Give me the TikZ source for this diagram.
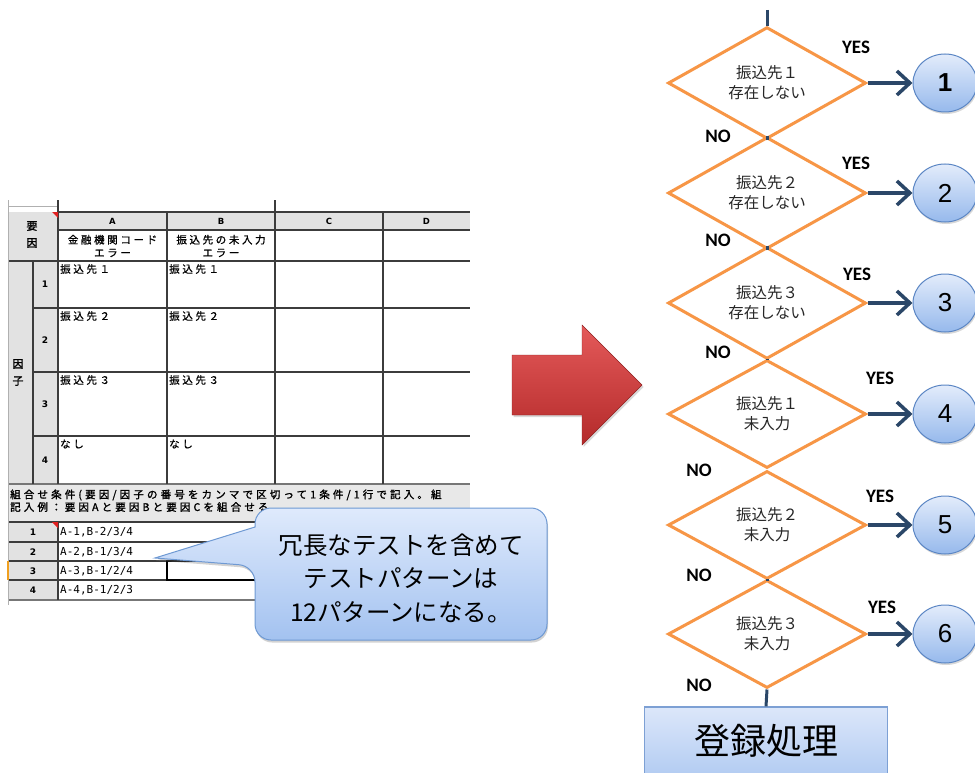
\documentclass[tikz,border=0pt]{standalone}
\usepackage{fontspec}
\usetikzlibrary{shapes.geometric,arrows.meta,shadows}
\newfontfamily\fJp{Noto Sans CJK JP}
\newfontfamily\fJpT[LetterSpace=25,FakeBold=0.6]{Noto Sans CJK JP}
\newfontfamily\fJpB[LetterSpace=30,FakeBold=1.6]{Noto Sans CJK JP}
\newfontfamily\fJpL[FakeBold=1.6]{Noto Sans CJK JP}
\newfontfamily\fCal{Carlito}
\newfontfamily\fAri{Liberation Sans}
\newfontfamily\fMono{DejaVu Sans Mono}
\newfontfamily\fDv{DejaVu Sans}
\definecolor{navy}{HTML}{2B4768}
\definecolor{orng}{HTML}{F79646}
\definecolor{eltop}{HTML}{E3ECFB}
\definecolor{elbot}{HTML}{96B9EC}
\definecolor{elline}{HTML}{5B86C4}
\definecolor{cotop}{HTML}{DFEAFC}
\definecolor{cobot}{HTML}{A3C2F0}
\definecolor{coline}{HTML}{6E99D3}
\definecolor{bxtop}{HTML}{DCE7FA}
\definecolor{bxbot}{HTML}{B3CCF2}
\definecolor{bxline}{HTML}{7DA0D4}
\definecolor{gridc}{HTML}{3C3C3C}
\definecolor{hdr}{HTML}{E2E2E2}
\definecolor{band}{HTML}{E8E8E8}
\definecolor{lgray}{HTML}{B0B0B0}
\definecolor{redtop}{HTML}{E45A5A}
\definecolor{redmid}{HTML}{D43C3C}
\definecolor{redbot}{HTML}{B42A2A}
\definecolor{markred}{HTML}{E02020}
\definecolor{selor}{HTML}{F0A020}
\tikzset{
  dia/.style={shape=diamond, draw=orng, line width=3pt, fill=white,
    minimum width=198pt, minimum height=108pt, inner sep=0pt, align=center,
    font=\fJp\fontsize{15.5}{20}\selectfont, text=black!85},
  res/.style={ellipse, draw=elline, line width=1pt, top color=eltop, bottom color=elbot,
    minimum width=64pt, minimum height=58pt, inner sep=0pt,
    font=\fAri\fontsize{26}{26}\selectfont,
    drop shadow={opacity=0.3, shadow xshift=1pt, shadow yshift=-2pt}},
  yes/.style={font=\fCal\bfseries\fontsize{19}{19}\selectfont, inner sep=0pt},
  link/.style={draw=navy, line width=3pt},
  yarrow/.style={draw=navy, line width=3.5pt, -{Straight Barb[length=13pt,width=24pt]}},
  regbox/.style={rectangle, draw=bxline, line width=1.2pt, top color=bxtop, bottom color=bxbot,
    minimum width=243pt, minimum height=68pt, inner sep=0pt,
    font=\fJp\fontsize{36}{36}\selectfont},
  gl/.style={draw=gridc, line width=1.1pt},
  tcell/.style={font=\fJpT\fontsize{10.5}{13}\selectfont, inner sep=0pt},
  thead/.style={font=\fDv\bfseries\fontsize{8.5}{8.5}\selectfont, inner sep=0pt},
  tnum/.style={font=\fDv\bfseries\fontsize{9}{9}\selectfont, inner sep=0pt},
  tband/.style={font=\fJpB\fontsize{10.5}{12}\selectfont, inner sep=0pt, anchor=west},
  tmono/.style={font=\fMono\fontsize{11}{11}\selectfont, inner sep=0pt, anchor=west},
  tlabel/.style={font=\fJpL\fontsize{11}{17}\selectfont, inner sep=0pt, align=center}
}
\begin{document}
\begin{tikzpicture}[x=1pt,y=-1pt]
\useasboundingbox (0,0) rectangle (975,773);
\fill[white] (0,0) rectangle (975,773);

% ================= spreadsheet =================
\begin{scope}
\clip (0,195) rectangle (470,615);
\fill[hdr] (8,212) rectangle (470,230);
\fill[hdr] (8,212) rectangle (58,484);
\fill[band] (8,484) rectangle (470,522);
\fill[hdr] (8,522) rectangle (58,600);
\draw[lgray, line width=1pt] (8,206) -- (58,206);
\draw[gl] (58,200) -- (58,212);
\draw[gl] (275,200) -- (275,212);
\draw[gridc, line width=1.8pt] (58,212) -- (470,212);
\draw[gl] (58,230) -- (470,230);
\draw[gl] (8,261) -- (470,261);
\draw[gl] (33,308) -- (470,308);
\draw[gl] (33,372) -- (470,372);
\draw[gl] (33,436) -- (470,436);
\draw[gridc!70, line width=1.8pt] (8,484) -- (470,484);
\draw[gl] (8,522) -- (470,522);
\draw[gl] (8,542) -- (470,542);
\draw[gl] (8,561) -- (470,561);
\draw[gl] (8,580) -- (470,580);
\draw[gridc!70, line width=1.5pt] (8,600) -- (470,600);
\draw[gl] (58,212) -- (58,484);
\draw[gl] (167,212) -- (167,484);
\draw[gl] (275,212) -- (275,484);
\draw[gl] (383,212) -- (383,484);
\draw[gl] (33,261) -- (33,484);
\draw[gl] (58,522) -- (58,600);
\draw[lgray, line width=1pt] (8,200) -- (8,605);
\draw[black, line width=2pt] (167,561) rectangle (470,580);
\draw[selor, line width=2pt] (8,561) -- (8,580);
\fill[markred] (52,212) -- (58,212) -- (58,218) -- cycle;
\fill[markred] (52,522) -- (58,522) -- (58,528) -- cycle;
\node[thead] (hA) at (112.5,221) {A};
\node[thead] (hB) at (221,221) {B};
\node[thead] (hC) at (329,221) {C};
\node[thead] (hD) at (426.5,221) {D};
\node[tcell, align=center] (nA) at (112.5,246) {金融機関コード\\エラー};
\node[tcell, align=center] (nB) at (221,246) {振込先の未入力\\エラー};
\node[tlabel] (lyoin) at (32,234.5) {要\\因};
\node[tlabel] (linshi) at (18,372.5) {因\\子};
\node[tnum] (n1) at (45,284) {1};
\node[tnum] (n2) at (45,340) {2};
\node[tnum] (n3) at (45,404) {3};
\node[tnum] (n4) at (45,460) {4};
\node[tcell, anchor=west] (a1) at (60,269) {振込先１};
\node[tcell, anchor=west] (b1) at (169,269) {振込先１};
\node[tcell, anchor=west] (a2) at (60,316) {振込先２};
\node[tcell, anchor=west] (b2) at (169,316) {振込先２};
\node[tcell, anchor=west] (a3) at (60,380) {振込先３};
\node[tcell, anchor=west] (b3) at (169,380) {振込先３};
\node[tcell, anchor=west] (a4) at (60,444) {なし};
\node[tcell, anchor=west] (b4) at (169,444) {なし};
\node[tband] (c1) at (10,495) {組合せ条件(要因/因子の番号をカンマで区切って1条件/1行で記入。組};
\node[tband] (c2) at (10,507) {記入例：要因Aと要因Bと要因Cを組合せる};
\node[tnum] (m1) at (33,532) {1};
\node[tnum] (m2) at (33,552) {2};
\node[tnum] (m3) at (33,571) {3};
\node[tnum] (m4) at (33,590) {4};
\node[tmono] (p1) at (60,532) {A-1,B-2/3/4};
\node[tmono] (p2) at (60,552) {A-2,B-1/3/4};
\node[tmono] (p3) at (60,571) {A-3,B-1/2/4};
\node[tmono] (p4) at (60,590) {A-4,B-1/2/3};
\end{scope}

% ================= callout =================
\shade[top color=cotop, bottom color=cobot, draw=coline, line width=1pt,
  drop shadow={opacity=0.35, shadow xshift=1pt, shadow yshift=-2.5pt}]
  (255,566) -- (155,558) -- (255,527) [rounded corners=16pt] -- (255,508) -- (547,508)
  -- (547,640) -- (255,640) -- cycle;
\node[font=\fJp\fontsize{24.5}{33.5}\selectfont, align=center, inner sep=0pt] (ctext)
  at (401,578) {冗長なテストを含めて\\テストパターンは\\12パターンになる。};

% ================= red arrow =================
\shade[top color=redtop, middle color=redmid, bottom color=redbot, draw=redbot!80!black, line width=0.4pt,
  drop shadow={opacity=0.3, shadow xshift=1.5pt, shadow yshift=-2pt}]
  (512,355) -- (582,355) -- (582,325) -- (642,385) -- (582,445) -- (582,415) -- (512,415) -- cycle;

% ================= flowchart =================
\node[dia] (d1) at (767,83) {振込先１\\存在しない};
\node[dia] (d2) at (767,193) {振込先２\\存在しない};
\node[dia] (d3) at (767,303) {振込先３\\存在しない};
\node[dia] (d4) at (767,414) {振込先１\\未入力};
\node[dia] (d5) at (767,525) {振込先２\\未入力};
\node[dia] (d6) at (767,634) {振込先３\\未入力};

\node[res] (r1) at (945,83) {\bfseries 1};
\node[res] (r2) at (945,193) {2};
\node[res] (r3) at (945,303) {3};
\node[res] (r4) at (945,414) {4};
\node[res] (r5) at (945,525) {5};
\node[res] (r6) at (945,634) {6};

\node[regbox] (reg) at (766,741) {登録処理};

\coordinate (top) at (767,10);
\draw[link] (top) -- (d1.north);
\draw[link] (d1.south) -- (d2.north);
\draw[link] (d2.south) -- (d3.north);
\draw[link] (d3.south) -- (d4.north);
\draw[link] (d4.south) -- (d5.north);
\draw[link] (d5.south) -- (d6.north);
\draw[link] (d6.south) -- (reg.north);

\foreach \i in {1,...,6} { \draw[yarrow] (d\i.east) -- (r\i.west); }

\node[yes] (y1) at (856,47) {YES};
\node[yes] (y2) at (856,163) {YES};
\node[yes] (y3) at (857,274) {YES};
\node[yes] (y4) at (880,378) {YES};
\node[yes] (y5) at (880,496) {YES};
\node[yes] (y6) at (882,607) {YES};
\node[yes] (o1) at (718,136) {NO};
\node[yes] (o2) at (718,240) {NO};
\node[yes] (o3) at (718,352) {NO};
\node[yes] (o4) at (699,470) {NO};
\node[yes] (o5) at (699,575) {NO};
\node[yes] (o6) at (699,685) {NO};
\end{tikzpicture}
\end{document}
